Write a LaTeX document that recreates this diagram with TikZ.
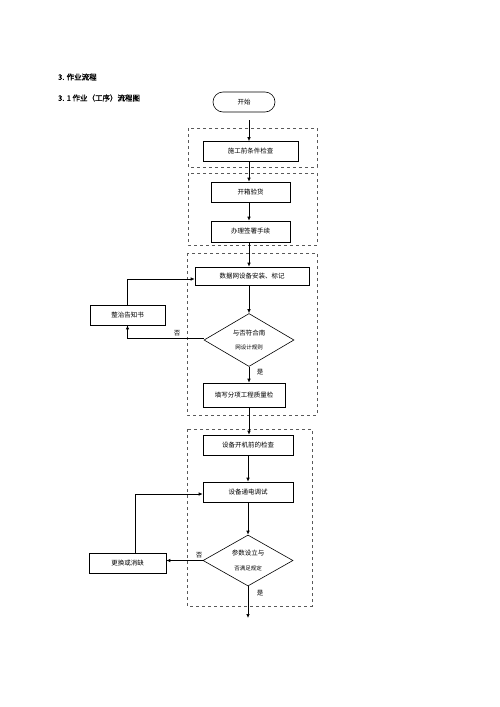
\documentclass[tikz,border=0pt]{standalone}
\usepackage{fontspec}
\setmainfont{Liberation Sans}
\newfontfamily\cjk{Noto Sans CJK SC}
\newfontfamily\cjkb[FakeBold=1.5]{Noto Sans CJK SC}
\usetikzlibrary{arrows.meta,shapes.geometric}
\begin{document}
\begin{tikzpicture}[x=1pt,y=-1pt,
  every node/.style={font=\cjk\fontsize{6.5}{7}\selectfont},
  stepbox/.style={draw,line width=0.6pt,minimum height=20pt,inner sep=0pt},
  dbox/.style={draw,dashed,gray!70!black,line width=0.6pt},
  arr/.style={-{Latex[length=4pt,width=3.5pt]},line width=0.7pt},
  lbl/.style={font=\cjk\fontsize{6.5}{7}\selectfont,inner sep=0pt}]
\useasboundingbox (0,0) rectangle (500,707);
\fill[white] (0,0) rectangle (500,707);
% headings
\node[anchor=west,inner sep=0pt,font=\cjkb\fontsize{7.5}{8}\selectfont] (h1) at (58,77) {3. 作业流程};
\node[anchor=west,inner sep=0pt,font=\cjkb\fontsize{7.5}{8}\selectfont] (h2) at (58,98) {3. 1 作业（工序）流程图};
% dashed groups
\draw[dbox] (188,128) rectangle (317,167);
\draw[dbox] (188,173) rectangle (317,245);
\draw[dbox] (187,253) rectangle (317,415);
\draw[dbox] (187,429) rectangle (312,606);
% nodes
\node[draw,line width=0.6pt,rounded corners=10pt,minimum width=62pt,minimum height=20pt] (start) at (244,102) {开始};
\coordinate (s1) at (249,120);
\node[stepbox,minimum width=95pt] (b1) at (250.5,151.5) {施工前条件检查};
\node[stepbox,minimum width=79pt] (b2) at (250.5,192) {开箱验货};
\node[stepbox,minimum width=79pt,minimum height=21pt] (b3) at (250.5,231.5) {办理签署手续};
\node[stepbox,minimum width=114pt,minimum height=18pt] (b4) at (252,276) {数据网设备安装、标记};
\node[draw,line width=0.6pt,diamond,aspect=1.7,minimum width=90pt,minimum height=53pt,inner sep=0pt] (d1) at (249,340) {};
\node[lbl] (d1a) at (249,333) {与否符合南};
\node[lbl,font=\cjk\fontsize{5.5}{6}\selectfont] (d1b) at (249,347) {网设计规则};
\node[stepbox,minimum width=82pt,minimum height=24pt] (b5) at (244,395) {填写分项工程质量检};
\node[stepbox,minimum width=75pt] (fix1) at (127.5,315) {整治告知书};
\node[stepbox,minimum width=90pt] (b6) at (248,445) {设备开机前的检查};
\node[stepbox,minimum width=90pt] (b7) at (248,492) {设备通电调试};
\node[draw,line width=0.6pt,diamond,aspect=1.7,minimum width=90pt,minimum height=51pt,inner sep=0pt] (d2) at (248,560.5) {};
\node[lbl] (d2a) at (248,553) {参数设立与};
\node[lbl,font=\cjk\fontsize{5.5}{6}\selectfont] (d2b) at (248,568) {否满足规定};
\node[stepbox,minimum width=77pt] (fix2) at (127.5,563) {更换或消缺};
\coordinate (end) at (248,618);
% connectors
\draw[arr] (s1) -- (s1 |- b1.north);
\draw[arr] (b1.south -| s1) -- (b2.north -| s1);
\draw[arr] (b2.south -| s1) -- (b3.north -| s1);
\draw[arr] (b3.south -| s1) -- (b4.north -| s1);
\draw[arr] (b4.south -| s1) -- (d1.north);
\draw[arr] (d1.south) -- (d1.south |- b5.north);
\node[lbl] (yes1) at (260,372) {是};
\draw[arr] (d1.west) ++(0,-2) -| (fix1.south);
\node[lbl] (no1) at (177,333) {否};
\draw[arr] (fix1.north) |- (b4.west |- 0,279);
\draw[arr] (b5.south -| s1) -- (b6.north -| s1);
\draw[arr] (b6.south) -- (b7.north);
\draw[arr] (b7.south) -- (d2.north);
\draw[arr] (d2.west) -- (fix2.east |- d2.west);
\node[lbl] (no2) at (199,555) {否};
\draw[arr] (fix2.north -| 135,0) |- (b7.west |- 0,494);
\draw[arr] (d2.south) -- (end);
\node[lbl] (yes2) at (260,593) {是};
\end{tikzpicture}
\end{document}
